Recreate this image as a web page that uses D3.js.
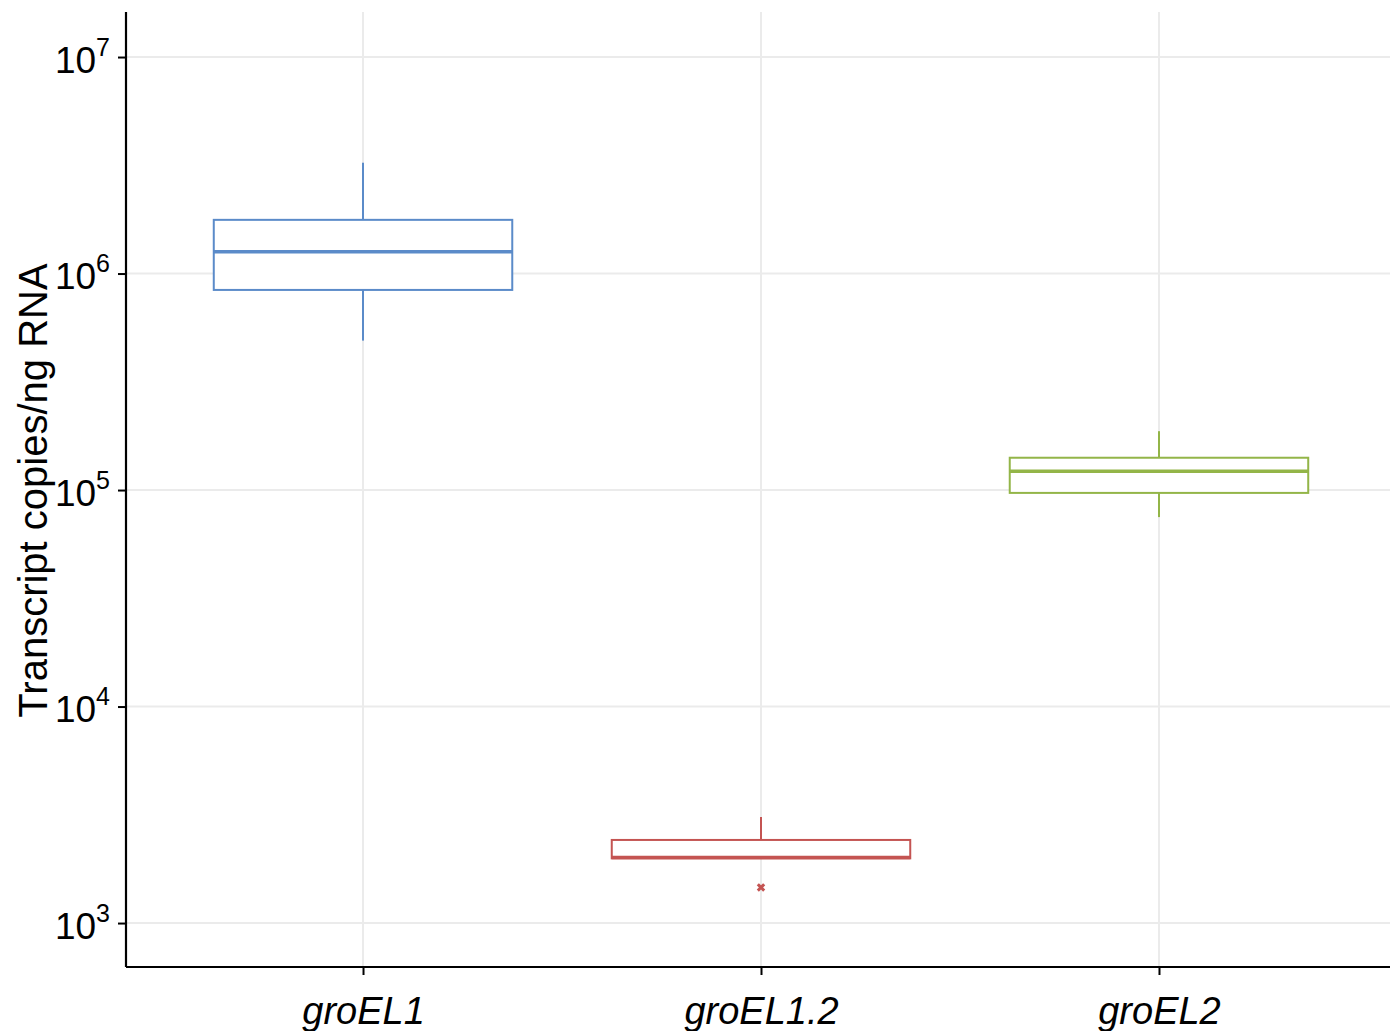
<!DOCTYPE html>
<html lang="en">
<head>
  <meta charset="UTF-8">
  <title>groEL transcript copies</title>
  <script src="https://d3js.org/d3.v7.min.js"></script>
  <style>
    body { margin: 0; background: #fff; }
  </style>
</head>
<body>
<svg width="1392" height="1031"></svg>
<script>
  // genes and box statistics (transcript copies / ng RNA)
  var genes = ['groEL1', 'groEL1.2', 'groEL2'];
  var whiskerLow = [4.9e5, 2000, 7.5e4];
  var q1 = [8.4e5, 1990, 9.7e4];
  var median = [1.26e6, 2010, 1.22e5];
  var q3 = [1.77e6, 2420, 1.41e5];
  var whiskerHigh = [3.25e6, 3090, 1.87e5];
  var outliers = [[], [1460], []];
  var colors = ['#5b8bc9', '#c45452', '#93b548'];
  var yTicks = [1e3, 1e4, 1e5, 1e6, 1e7];

  var svg = d3.select('svg');
  var plot = {left: 126, right: 1390, top: 12, bottom: 967};

  var x = d3.scalePoint()
    .domain(genes)
    .range([plot.left + 3, plot.right + 3])
    .padding(0.588);

  var y = d3.scaleLog()
    .domain([10 ** 2.797, 10 ** 7.208])
    .range([plot.bottom, plot.top]);

  var boxW = x.step() * 0.75;

  // grid
  svg.append('g')
    .selectAll('line')
    .data(yTicks)
    .join('line')
    .attr('x1', plot.left).attr('x2', plot.right)
    .attr('y1', function (d) { return y(d); })
    .attr('y2', function (d) { return y(d); })
    .attr('stroke', '#ebebeb')
    .attr('stroke-width', 2);

  svg.append('g')
    .selectAll('line')
    .data(genes)
    .join('line')
    .attr('x1', function (d) { return x(d); })
    .attr('x2', function (d) { return x(d); })
    .attr('y1', plot.top).attr('y2', plot.bottom)
    .attr('stroke', '#ebebeb')
    .attr('stroke-width', 2);

  // boxes
  var boxes = svg.append('g')
    .selectAll('g')
    .data(genes)
    .join('g');

  boxes.each(function (g, i) {
    var el = d3.select(this);
    var cx = x(g);
    var c = colors[i];
    el.append('line')
      .attr('x1', cx).attr('x2', cx)
      .attr('y1', y(whiskerHigh[i])).attr('y2', y(q3[i]))
      .attr('stroke', c).attr('stroke-width', 2);
    el.append('line')
      .attr('x1', cx).attr('x2', cx)
      .attr('y1', y(q1[i])).attr('y2', y(whiskerLow[i]))
      .attr('stroke', c).attr('stroke-width', 2);
    el.append('rect')
      .attr('x', cx - boxW / 2)
      .attr('y', y(q3[i]))
      .attr('width', boxW)
      .attr('height', y(q1[i]) - y(q3[i]))
      .attr('fill', '#fff')
      .attr('stroke', c)
      .attr('stroke-width', 2);
    el.append('line')
      .attr('x1', cx - boxW / 2).attr('x2', cx + boxW / 2)
      .attr('y1', y(median[i])).attr('y2', y(median[i]))
      .attr('stroke', c).attr('stroke-width', 3.5);
    outliers[i].forEach(function (v) {
      el.append('path')
        .attr('transform', 'translate(' + cx + ',' + y(v) + ') rotate(45)')
        .attr('d', d3.symbol(d3.symbolCross, 45))
        .attr('fill', c);
    });
  });

  // axes
  var yAxis = svg.append('g')
    .attr('transform', 'translate(' + plot.left + ',0)')
    .call(d3.axisLeft(y).tickValues(yTicks).tickSize(8).tickFormat(''));
  yAxis.select('.domain').attr('stroke', '#000').attr('stroke-width', 2.2)
    .attr('d', 'M0,' + plot.top + 'V' + plot.bottom);
  yAxis.selectAll('.tick line').attr('stroke', '#000').attr('stroke-width', 2);

  var labels = yAxis.selectAll('.tick')
    .append('text')
    .attr('x', -16)
    .attr('y', 15)
    .attr('text-anchor', 'end')
    .attr('fill', '#000')
    .style('font-family', 'Liberation Sans, Arial, sans-serif')
    .style('font-size', '37px');
  labels.append('tspan').text('10');
  labels.append('tspan')
    .attr('dy', -17)
    .style('font-size', '25px')
    .text(function (d) { return Math.round(Math.log10(d)); });

  var xAxis = svg.append('g')
    .attr('transform', 'translate(0,' + plot.bottom + ')')
    .call(d3.axisBottom(x).tickSize(8).tickPadding(22));
  xAxis.select('.domain').attr('stroke', '#000').attr('stroke-width', 2.2)
    .attr('d', 'M' + plot.left + ',0H' + plot.right);
  xAxis.selectAll('.tick line').attr('stroke', '#000').attr('stroke-width', 2);
  xAxis.selectAll('.tick text')
    .attr('fill', '#000')
    .style('font-family', 'Liberation Sans Narrow, Arial Narrow, sans-serif')
    .style('font-style', 'italic')
    .style('font-size', '38px');

  svg.append('text')
    .attr('transform', 'translate(47,' + ((plot.top + plot.bottom) / 2 + 1) + ') rotate(-90)')
    .attr('text-anchor', 'middle')
    .attr('fill', '#000')
    .style('font-family', 'Liberation Sans, Arial, sans-serif')
    .style('font-size', '40px')
    .text('Transcript copies/ng RNA');
</script>
</body>
</html>
